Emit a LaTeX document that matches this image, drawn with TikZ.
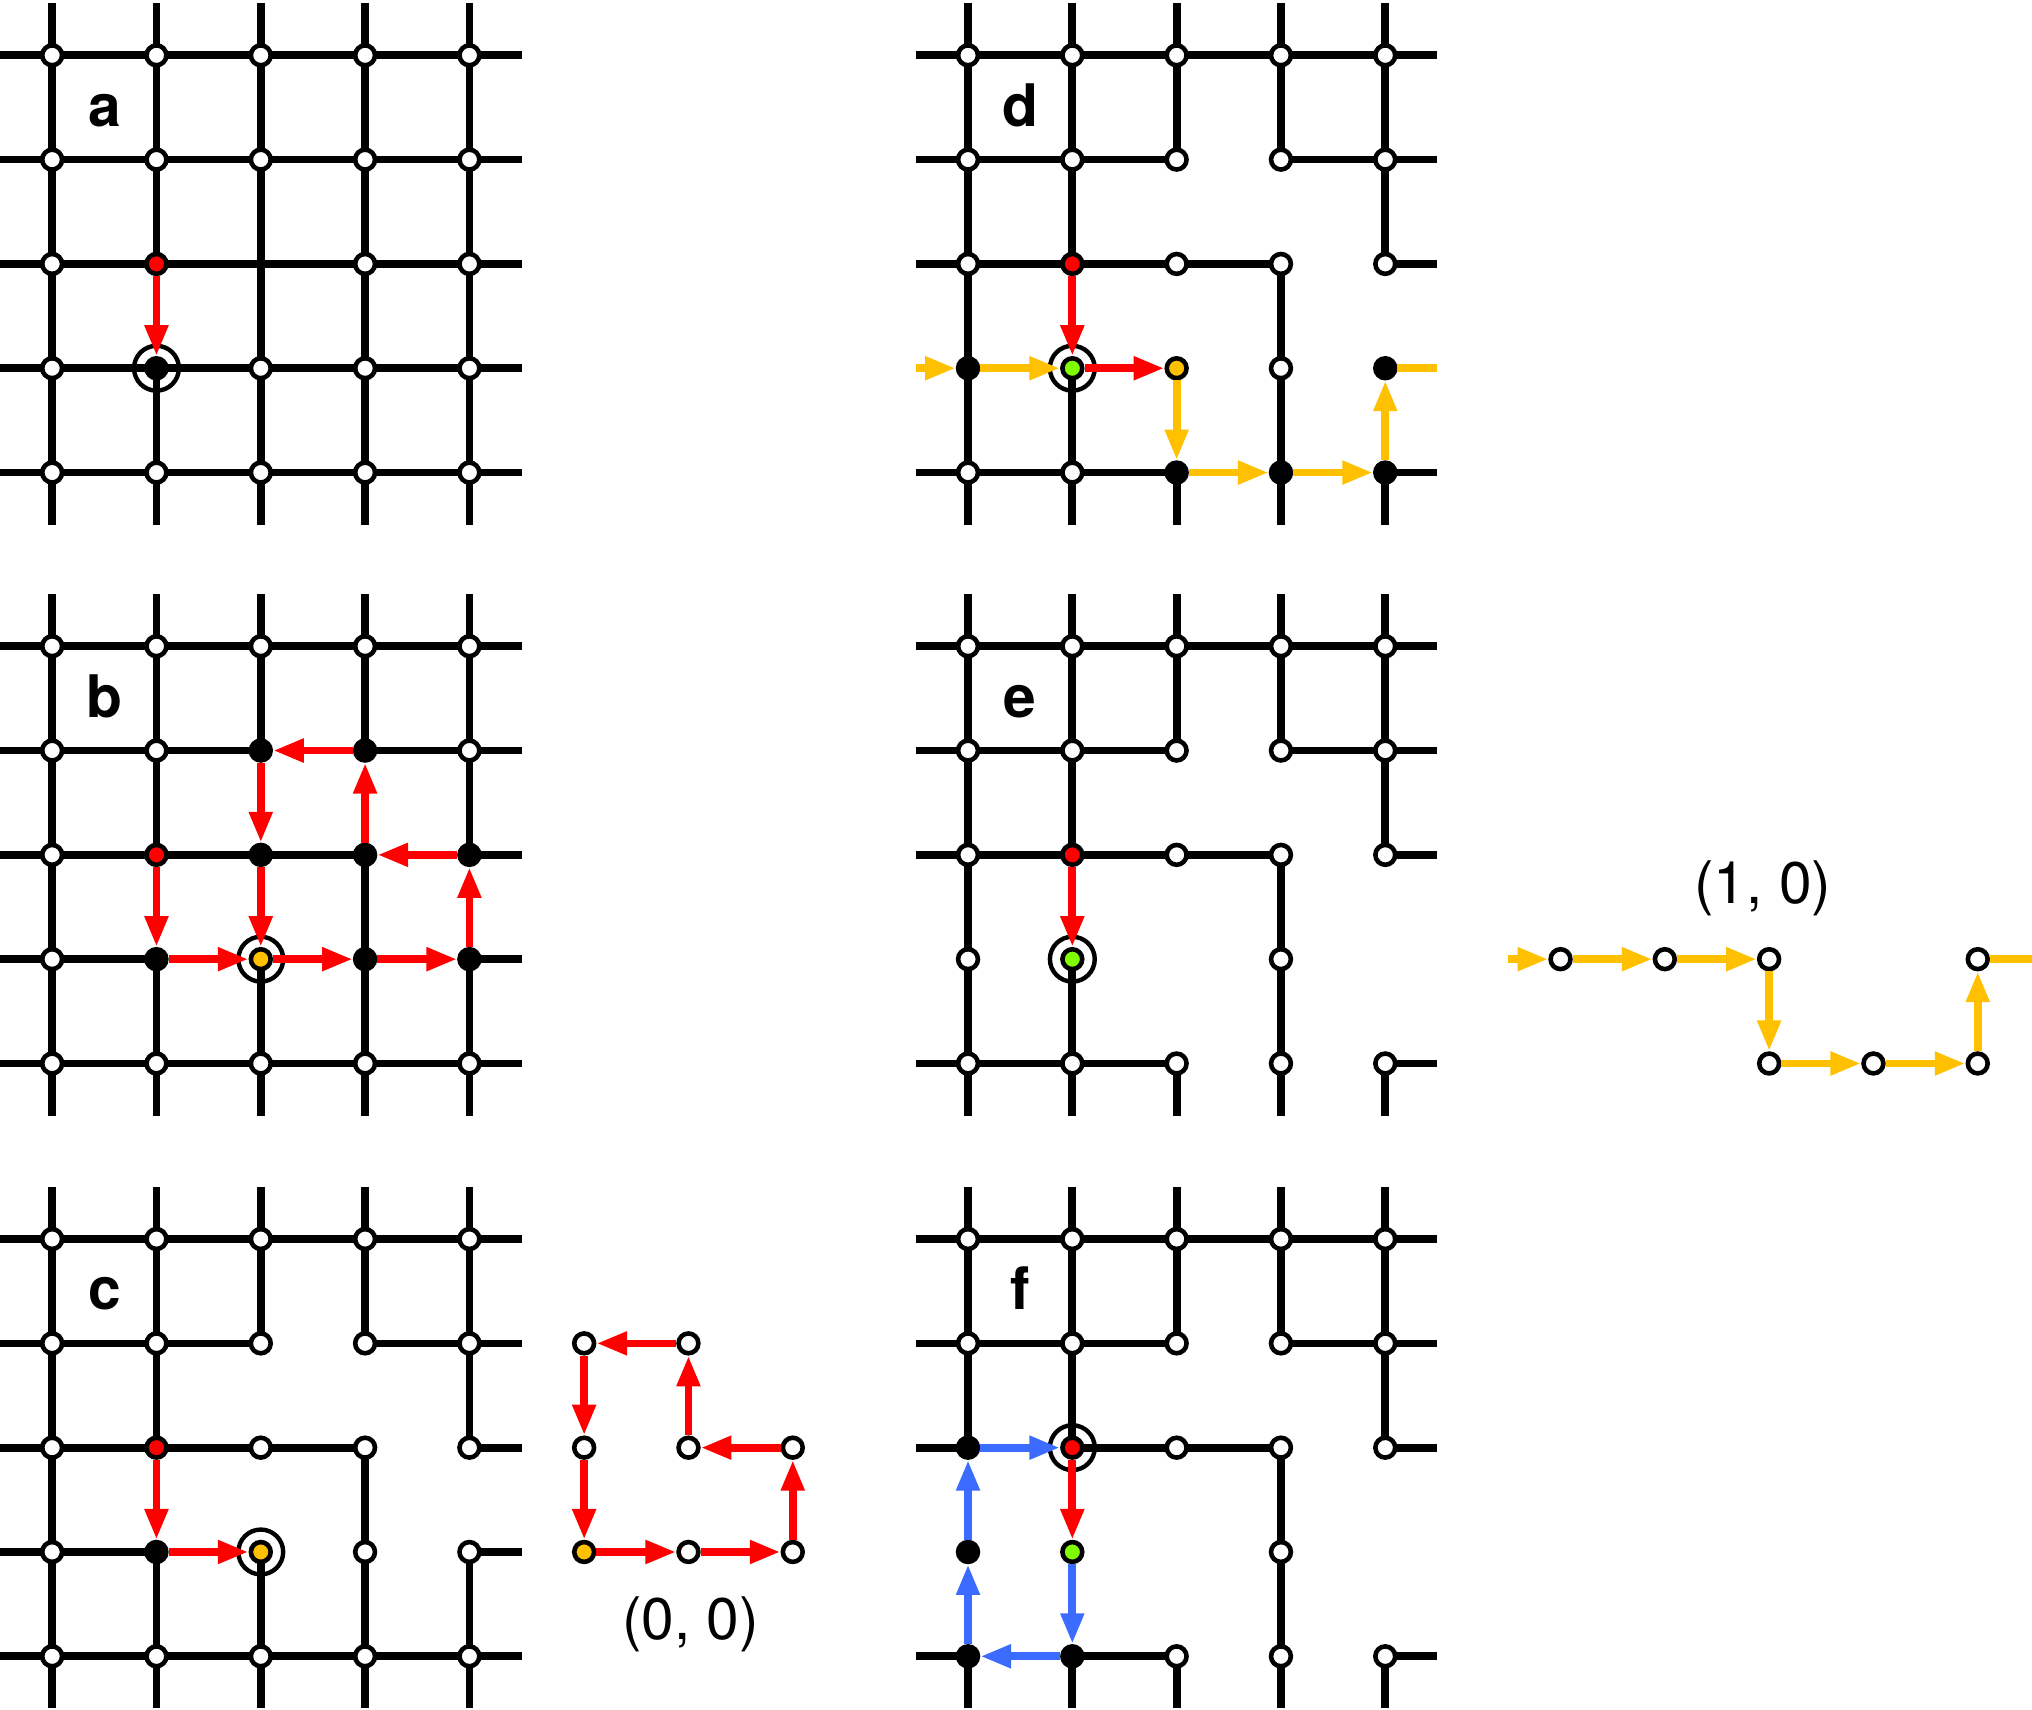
\documentclass[tikz,border=0pt]{standalone}
\usepackage{fontspec}
\setmainfont{TeX Gyre Heros}
\usepackage{tikz}
\usetikzlibrary{arrows.meta}
\definecolor{pathred}{HTML}{FF0000}
\definecolor{pathyellow}{HTML}{FFC000}
\definecolor{pathgreen}{HTML}{80FF00}
\definecolor{pathblue}{HTML}{3B6CFF}

\begin{document}
\begin{tikzpicture}[
    lattice/.style={line width=2.1pt, black},
    vwhite/.style={circle, draw, line width=1.25pt, fill=white, minimum size=0.19cm, inner sep=0pt},
    vblack/.style={vwhite, fill=black},
    vred/.style={vwhite, fill=pathred},
    vyellow/.style={vwhite, fill=pathyellow},
    vgreen/.style={vwhite, fill=pathgreen},
    tgtring/.style={circle, draw, line width=1.2pt, minimum size=0.43cm, inner sep=0pt},
    lbl/.style={font=\fontsize{16}{16}\selectfont\bfseries, anchor=base},
    coordlbl/.style={font=\fontsize{16}{16}\selectfont, anchor=base},
    arrbase/.style={line width=2.1pt, -{Triangle[length=8.4pt, width=6pt]}},
    redarr/.style={arrbase, draw=pathred},
    yelarr/.style={arrbase, draw=pathyellow},
    bluearr/.style={arrbase, draw=pathblue},
    yelline/.style={line width=2.1pt, draw=pathyellow}
]
\useasboundingbox (0,0) rectangle (19.48,-16.385);

% Panel a
\begin{scope}[shift={(0.5,-0.53)}, name prefix=a-]
\foreach \i in {0,...,4} \draw[lattice] (-0.5,-\i) -- (4.5,-\i);
\foreach \c/\p/\q in {0/0.5/-4.5, 1/0.5/-2, 1/-3/-4.5, 2/0.5/-4.5, 3/0.5/-4.5, 4/0.5/-4.5}
    \draw[lattice] (\c,\p) -- (\c,\q);
\node[tgtring] (tgt) at (1,-3) {};
\foreach \c/\r in {0/0,1/0,2/0,3/0,4/0, 0/1,1/1,2/1,3/1,4/1, 0/2,3/2,4/2, 0/3,2/3,3/3,4/3, 0/4,1/4,2/4,3/4,4/4}
    \node[vwhite] (\c-\r) at (\c,-\r) {};
\node[vred] (1-2) at (1,-2) {};
\node[vblack] (1-3) at (1,-3) {};
\draw[redarr] (1-2) -- (1-3);
\node[lbl] (tag) at (0.5,-0.68) {a};
\end{scope}

% Panel b
\begin{scope}[shift={(0.5,-6.195)}, name prefix=b-]
\foreach \r/\p/\q in {0/-0.5/4.5, 1/-0.5/2, 1/3/4.5, 2/-0.5/3, 2/4/4.5, 3/-0.5/1, 3/4/4.5, 4/-0.5/4.5}
    \draw[lattice] (\p,-\r) -- (\q,-\r);
\foreach \c/\p/\q in {0/0.5/-4.5, 1/0.5/-2, 1/-3/-4.5, 2/0.5/-1, 2/-3/-4.5, 3/0.5/-1, 3/-2/-4.5, 4/0.5/-2, 4/-3/-4.5}
    \draw[lattice] (\c,\p) -- (\c,\q);
\node[tgtring] (tgt) at (2,-3) {};
\foreach \c/\r in {0/0,1/0,2/0,3/0,4/0, 0/1,1/1,4/1, 0/2, 0/3, 0/4,1/4,2/4,3/4,4/4}
    \node[vwhite] (\c-\r) at (\c,-\r) {};
\foreach \c/\r in {2/1,3/1,2/2,3/2,4/2,1/3,3/3,4/3}
    \node[vblack] (\c-\r) at (\c,-\r) {};
\node[vred] (1-2) at (1,-2) {};
\node[vyellow] (2-3) at (2,-3) {};
\foreach \s/\t in {1-2/1-3, 1-3/2-3, 2-3/3-3, 3-3/4-3, 4-3/4-2, 4-2/3-2, 3-2/3-1, 3-1/2-1, 2-1/2-2, 2-2/2-3}
    \draw[redarr] (\s) -- (\t);
\node[lbl] (tag) at (0.5,-0.68) {b};
\end{scope}

% Panel c
\begin{scope}[shift={(0.5,-11.878)}, name prefix=c-]
\foreach \r/\p/\q in {0/-0.5/4.5, 1/-0.5/2, 1/3/4.5, 2/-0.5/3, 2/4/4.5, 3/-0.5/1, 3/4/4.5, 4/-0.5/4.5}
    \draw[lattice] (\p,-\r) -- (\q,-\r);
\foreach \c/\p/\q in {0/0.5/-4.5, 1/0.5/-2, 1/-3/-4.5, 2/0.5/-1, 2/-3/-4.5, 3/0.5/-1, 3/-2/-4.5, 4/0.5/-2, 4/-3/-4.5}
    \draw[lattice] (\c,\p) -- (\c,\q);
\node[tgtring] (tgt) at (2,-3) {};
\foreach \c/\r in {0/0,1/0,2/0,3/0,4/0, 0/1,1/1,2/1,3/1,4/1, 0/2,2/2,3/2,4/2, 0/3,3/3,4/3, 0/4,1/4,2/4,3/4,4/4}
    \node[vwhite] (\c-\r) at (\c,-\r) {};
\node[vred] (1-2) at (1,-2) {};
\node[vblack] (1-3) at (1,-3) {};
\node[vyellow] (2-3) at (2,-3) {};
\draw[redarr] (1-2) -- (1-3);
\draw[redarr] (1-3) -- (2-3);
\node[lbl] (tag) at (0.5,-0.68) {c};

% loop (0, 0)
\node[vyellow] (lp1) at (5.1,-3) {};
\node[vwhite] (lp2) at (6.1,-3) {};
\node[vwhite] (lp3) at (7.1,-3) {};
\node[vwhite] (lp4) at (7.1,-2) {};
\node[vwhite] (lp5) at (6.1,-2) {};
\node[vwhite] (lp6) at (6.1,-1) {};
\node[vwhite] (lp7) at (5.1,-1) {};
\node[vwhite] (lp8) at (5.1,-2) {};
\foreach \s/\t in {lp1/lp2, lp2/lp3, lp3/lp4, lp4/lp5, lp5/lp6, lp6/lp7, lp7/lp8, lp8/lp1}
    \draw[redarr] (\s) -- (\t);
\node[coordlbl] (wind) at (6.12,-3.84) {(0, 0)};
\end{scope}

% Panel d
\begin{scope}[shift={(9.28,-0.53)}, name prefix=d-]
\foreach \r/\p/\q in {0/-0.5/4.5, 1/-0.5/2, 1/3/4.5, 2/-0.5/3, 2/4/4.5, 4/-0.5/2, 4/4/4.5}
    \draw[lattice] (\p,-\r) -- (\q,-\r);
\foreach \c/\p/\q in {0/0.5/-4.5, 1/0.5/-2, 1/-3/-4.5, 2/0.5/-1, 2/-4/-4.5, 3/0.5/-1, 3/-2/-4.5, 4/0.5/-2, 4/-4/-4.5}
    \draw[lattice] (\c,\p) -- (\c,\q);
\node[tgtring] (tgt) at (1,-3) {};
\foreach \c/\r in {0/0,1/0,2/0,3/0,4/0, 0/1,1/1,2/1,3/1,4/1, 0/2,2/2,3/2,4/2, 3/3, 0/4,1/4}
    \node[vwhite] (\c-\r) at (\c,-\r) {};
\foreach \c/\r in {0/3,4/3,2/4,3/4,4/4}
    \node[vblack] (\c-\r) at (\c,-\r) {};
\node[vred] (1-2) at (1,-2) {};
\node[vgreen] (1-3) at (1,-3) {};
\node[vyellow] (2-3) at (2,-3) {};
\coordinate (in) at (-0.5,-3);
\coordinate (out) at (4.5,-3);
\foreach \s/\t in {in/0-3, 0-3/1-3, 2-3/2-4, 2-4/3-4, 3-4/4-4, 4-4/4-3}
    \draw[yelarr] (\s) -- (\t);
\draw[yelline] (4-3) -- (out);
\draw[redarr] (1-2) -- (1-3);
\draw[redarr] (1-3) -- (2-3);
\node[lbl] (tag) at (0.5,-0.68) {d};
\end{scope}

% Panel e
\begin{scope}[shift={(9.28,-6.195)}, name prefix=e-]
\foreach \r/\p/\q in {0/-0.5/4.5, 1/-0.5/2, 1/3/4.5, 2/-0.5/3, 2/4/4.5, 4/-0.5/2, 4/4/4.5}
    \draw[lattice] (\p,-\r) -- (\q,-\r);
\foreach \c/\p/\q in {0/0.5/-4.5, 1/0.5/-2, 1/-3/-4.5, 2/0.5/-1, 2/-4/-4.5, 3/0.5/-1, 3/-2/-4.5, 4/0.5/-2, 4/-4/-4.5}
    \draw[lattice] (\c,\p) -- (\c,\q);
\node[tgtring] (tgt) at (1,-3) {};
\foreach \c/\r in {0/0,1/0,2/0,3/0,4/0, 0/1,1/1,2/1,3/1,4/1, 0/2,2/2,3/2,4/2, 0/3,3/3, 0/4,1/4,2/4,3/4,4/4}
    \node[vwhite] (\c-\r) at (\c,-\r) {};
\node[vred] (1-2) at (1,-2) {};
\node[vgreen] (1-3) at (1,-3) {};
\draw[redarr] (1-2) -- (1-3);
\node[lbl] (tag) at (0.5,-0.68) {e};

% loop (1, 0)
\node[vwhite] (y1) at (5.68,-3) {};
\node[vwhite] (y2) at (6.68,-3) {};
\node[vwhite] (y3) at (7.68,-3) {};
\node[vwhite] (y4) at (7.68,-4) {};
\node[vwhite] (y5) at (8.68,-4) {};
\node[vwhite] (y6) at (9.68,-4) {};
\node[vwhite] (y7) at (9.68,-3) {};
\coordinate (yin) at (5.18,-3);
\coordinate (yout) at (10.2,-3);
\foreach \s/\t in {yin/y1, y1/y2, y2/y3, y3/y4, y4/y5, y5/y6, y6/y7}
    \draw[yelarr] (\s) -- (\t);
\draw[yelline] (y7) -- (yout);
\node[coordlbl] (wind) at (7.62,-2.47) {(1, 0)};
\end{scope}

% Panel f
\begin{scope}[shift={(9.28,-11.878)}, name prefix=f-]
\foreach \r/\p/\q in {0/-0.5/4.5, 1/-0.5/2, 1/3/4.5, 2/-0.5/0, 2/1/3, 2/4/4.5, 4/-0.5/0, 4/1/2, 4/4/4.5}
    \draw[lattice] (\p,-\r) -- (\q,-\r);
\foreach \c/\p/\q in {0/0.5/-2, 0/-4/-4.5, 1/0.5/-2, 1/-4/-4.5, 2/0.5/-1, 2/-4/-4.5, 3/0.5/-1, 3/-2/-4.5, 4/0.5/-2, 4/-4/-4.5}
    \draw[lattice] (\c,\p) -- (\c,\q);
\node[tgtring] (tgt) at (1,-2) {};
\foreach \c/\r in {0/0,1/0,2/0,3/0,4/0, 0/1,1/1,2/1,3/1,4/1, 2/2,3/2,4/2, 3/3, 2/4,3/4,4/4}
    \node[vwhite] (\c-\r) at (\c,-\r) {};
\foreach \c/\r in {0/2,0/3,0/4,1/4}
    \node[vblack] (\c-\r) at (\c,-\r) {};
\node[vred] (1-2) at (1,-2) {};
\node[vgreen] (1-3) at (1,-3) {};
\draw[redarr] (1-2) -- (1-3);
\foreach \s/\t in {1-3/1-4, 1-4/0-4, 0-4/0-3, 0-3/0-2, 0-2/1-2}
    \draw[bluearr] (\s) -- (\t);
\node[lbl] (tag) at (0.5,-0.68) {f};
\end{scope}

\end{tikzpicture}
\end{document}
